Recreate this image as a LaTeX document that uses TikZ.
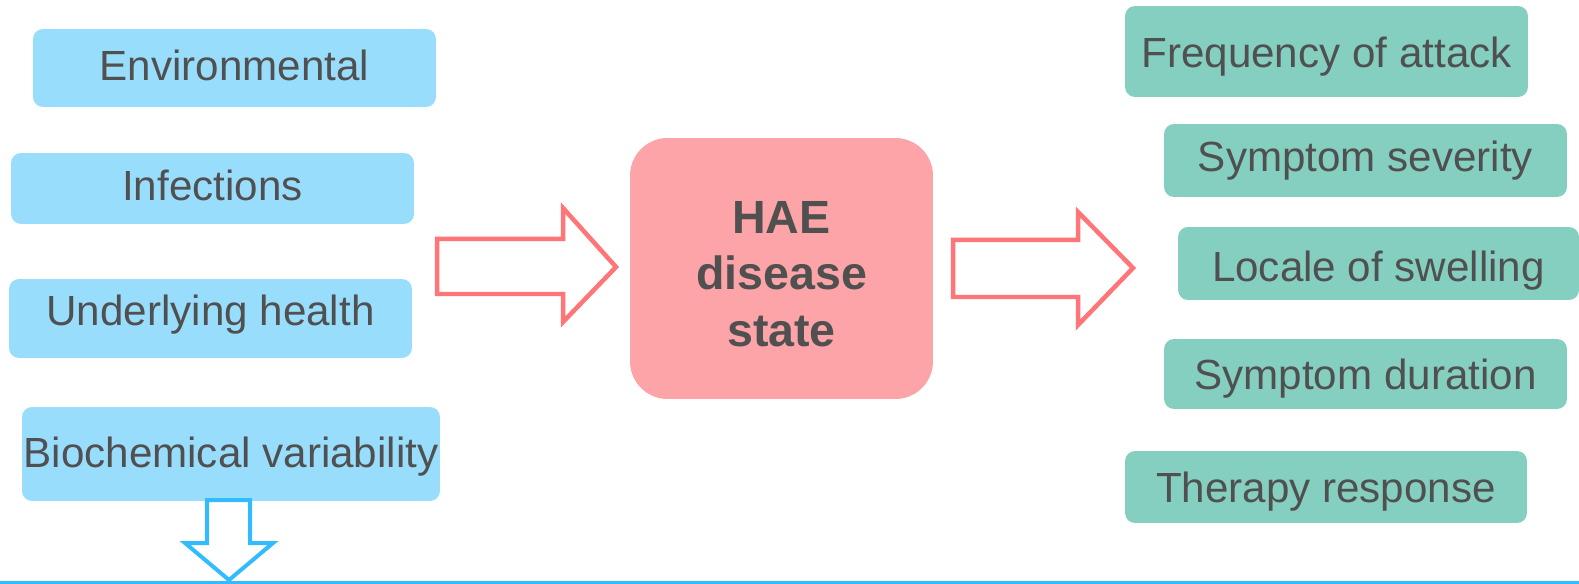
\documentclass[tikz,border=0pt]{standalone}
\usepackage{fontspec}
\setmainfont{Liberation Sans}
\definecolor{causefill}{RGB}{153, 221, 253}
\definecolor{effectfill}{RGB}{133, 207, 193}
\definecolor{statefill}{RGB}{253, 164, 168}
\definecolor{redline}{RGB}{255, 117, 120}
\definecolor{blueline}{RGB}{51, 187, 255}
\definecolor{textgray}{RGB}{80, 80, 80}
\usetikzlibrary{positioning}

\tikzset{
  causebox/.style={fill=causefill, rounded corners=0.2cm, inner sep=0pt,
    text=textgray, font=\fontsize{24}{28}\selectfont},
  effectbox/.style={fill=effectfill, rounded corners=0.2cm, inner sep=0pt,
    text=textgray, font=\fontsize{24}{28}\selectfont},
  statebox/.style={fill=statefill, rounded corners=0.75cm, inner sep=0pt,
    text=textgray, align=center, font=\fontsize{26.5}{32.3}\selectfont\bfseries},
  blockarrow/.style={draw=redline, line width=0.09cm, fill=white, line join=miter}
}

\begin{document}
\begin{tikzpicture}[x=0.02cm, y=-0.02cm]
    \useasboundingbox (0,0) rectangle (1579,584);

    % influencing factors
    \node[causebox, minimum width=8.06cm, minimum height=1.56cm,
      text height=22pt, text depth=7.8pt] (env) at (234.5,68) {Environmental};
    \node[causebox, minimum width=8.06cm, minimum height=1.42cm,
      text height=22pt, text depth=7.8pt] (inf) at (212.5,188.5) {Infections};
    \node[causebox, minimum width=8.06cm, minimum height=1.58cm,
      text height=22pt, text depth=13.5pt] (und) at (210.5,318.5) {Underlying health};
    \node[causebox, minimum width=8.36cm, minimum height=1.88cm,
      text height=22pt, text depth=6.1pt] (bio) at (231,454) {Biochemical variability};

    % disease state
    \node[statebox, minimum width=6.06cm, minimum height=5.22cm,
      text height=89pt, text depth=0pt] (state) at (781.5,268.5) {HAE\\disease\\state};

    % outcomes
    \node[effectbox, minimum width=8.06cm, minimum height=1.82cm,
      text height=22pt, text depth=3.3pt] (freq) at (1326.5,51.5) {Frequency of attack};
    \node[effectbox, minimum width=8.06cm, minimum height=1.46cm,
      text height=22pt, text depth=9pt] (sev) at (1365.5,160.5) {Symptom severity};
    \node[effectbox, minimum width=8.02cm, minimum height=1.46cm,
      text height=22pt, text depth=1pt] (loc) at (1378.5,263.5) {Locale of swelling};
    \node[effectbox, minimum width=8.06cm, minimum height=1.40cm,
      text height=22pt, text depth=4.8pt] (dur) at (1365.5,374) {Symptom duration};
    \node[effectbox, minimum width=8.04cm, minimum height=1.44cm,
      text height=22pt, text depth=3.9pt] (ther) at (1326,487) {Therapy response};

    % block arrows
    \draw[blockarrow] (437,239) -- (563,239) -- (563,208) -- (616,267)
      -- (563,322) -- (563,294) -- (437,294) -- cycle;
    \draw[blockarrow] (953,240) -- (1078,240) -- (1078,212) -- (1133,268)
      -- (1078,325) -- (1078,297) -- (953,297) -- cycle;
    \draw[blockarrow, draw=blueline, line width=0.08cm] (207,500) -- (250,500) -- (250,543) -- (273,543)
      -- (229,580) -- (185,543) -- (207,543) -- cycle;

    % base line
    \draw[blueline, line width=0.06cm] (0,582.5) -- (1579,582.5);
\end{tikzpicture}
\end{document}
